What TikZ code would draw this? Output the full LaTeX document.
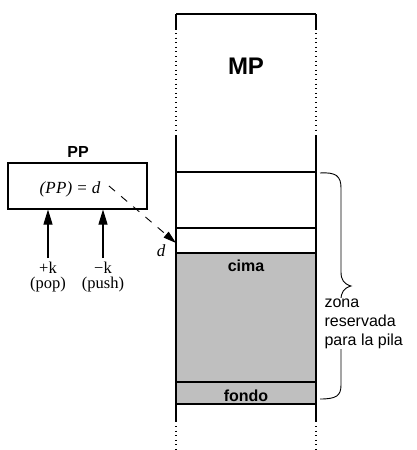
\documentclass[tikz,border=0pt]{standalone}
\usepackage{fontspec}
\setmainfont{Liberation Serif}
\setsansfont{Liberation Sans}
\usetikzlibrary{arrows.meta}

\begin{document}
\begin{tikzpicture}[x=1pt,y=-1pt,line width=1.1pt,
  bold/.style={font=\sffamily\bfseries\fontsize{16}{18}\selectfont,inner sep=0,anchor=base},
  serif/.style={font=\fontsize{16.5}{18}\selectfont,inner sep=0,anchor=base},
  mathit/.style={font=\itshape\fontsize{17}{19}\selectfont,inner sep=0,anchor=base},
  dotline/.style={dash pattern=on 1pt off 3.6pt},
  pusharrow/.style={-{Triangle[length=15pt,width=9pt]}},
  ptrarrow/.style={line width=0.9pt,dash pattern=on 8pt off 8pt,-{Triangle[length=13pt,width=7.5pt]}}]
\useasboundingbox (0,0) rectangle (417,450);

% memory column
\fill[gray!50] (176,253) rectangle (316,404);
\draw (176,14) -- (316,14);
\foreach \cx in {176,316}{
  \draw (\cx,14) -- (\cx,30);
  \draw[dotline] (\cx,33) -- (\cx,131);
  \draw (\cx,135) -- (\cx,422);
  \draw[dotline] (\cx,426) -- (\cx,450);
}
\draw (176,172) -- (316,172);
\draw (176,228) -- (316,228);
\draw (176,253) -- (316,253);
\draw (176,382) -- (316,382);
\draw (176,404) -- (316,404);
\coordinate (slot) at (176,243);

\node[bold,font=\sffamily\bfseries\fontsize{24}{26}\selectfont] (mp) at (246,74) {MP};
\node[bold] (cima) at (246,271) {cima};
\node[bold] (fondo) at (246,401) {fondo};

% reserved area brace
\draw[line width=0.9pt] (320,173) .. controls (336,172) and (341,176) .. (341,188)
  -- (341,272) .. controls (341,280) and (344,284) .. (351,286)
  .. controls (344,288) and (341,292) .. (341,300)
  -- (341,385) .. controls (341,396) and (336,399) .. (320,399);
\node[fill=white,inner sep=1pt,anchor=north west,align=left,
  font=\sffamily\fontsize{16}{19}\selectfont] (zona) at (323,297)
  {zona\\reservada\\para la pila};

% stack pointer register
\node[bold] (pplbl) at (78,157) {PP};
\node[draw,minimum width=139pt,minimum height=46pt,inner sep=0] (pp) at (77.5,186) {};
\node[mathit] (ppval) at (70,193)
  {(P\kern0.5pt P)\kern5pt{\upshape=}\kern5pt d};
\node[mathit] (dlbl) at (161,256) {d};

\node[serif] (popk) at (48,273) {+k};
\node[serif] (pop) at (48,288) {(pop)};
\node[serif] (pushk) at (103,273) {−k};
\node[serif] (push) at (103,288) {(push)};

\draw[pusharrow] (popk.north) ++(0,-3) -- (popk.north |- pp.south);
\draw[pusharrow] (pushk.north) ++(0,-3) -- (pushk.north |- pp.south);
\draw[ptrarrow] (ppval.east) ++(8,-3) -- (slot);
\end{tikzpicture}
\end{document}
